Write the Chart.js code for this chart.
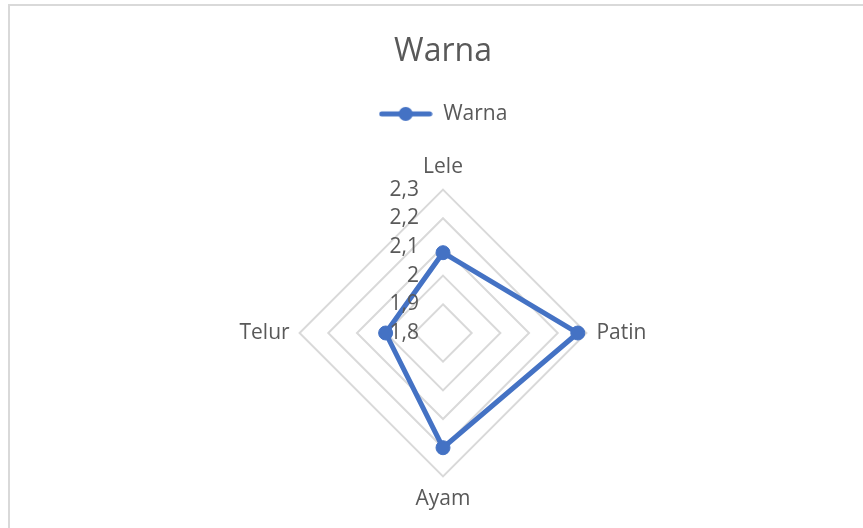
<!DOCTYPE html>
<html>
<head>
<meta charset="utf-8">
<script src="https://cdn.jsdelivr.net/npm/chart.js@4"></script>
<style>
  html, body { margin: 0; padding: 0; background: #fff; }
  #wrap { position: relative; width: 863px; height: 528px; overflow: hidden; }
  #frame { position: absolute; left: 8px; top: 4px; width: 900px; height: 600px;
           border-left: 2px solid #d9d9d9; border-top: 2px solid #d9d9d9; }
  canvas { position: absolute; left: 0; top: 0; }
</style>
</head>
<body>
<div id="wrap">
  <div id="frame"></div>
  <canvas id="radarChart" width="863" height="528"></canvas>
</div>
<script>
const categories = ['Lele', 'Patin', 'Ayam', 'Telur'];
const warnaValues = [2.08, 2.27, 2.2, 2.0];
const tickValues = [1.8, 1.9, 2.0, 2.1, 2.2, 2.3];

const textColor = '#595959';
const lineColor = '#4472c4';
const fontFamily = "'Open Sans', sans-serif";

// legend marker: line with a dot in the middle
const marker = document.createElement('canvas');
marker.width = 54;
marker.height = 16;
(function () {
    const c = marker.getContext('2d');
    c.strokeStyle = lineColor;
    c.lineWidth = 5;
    c.lineCap = 'round';
    c.beginPath();
    c.moveTo(3, 8);
    c.lineTo(51, 8);
    c.stroke();
    c.fillStyle = lineColor;
    c.beginPath();
    c.arc(27, 8, 7, 0, Math.PI * 2);
    c.fill();
})();

// extra room under the legend
const legendMargin = {
    id: 'legendMargin',
    beforeInit(chart) {
        const fit = chart.legend.fit;
        chart.legend.fit = function () {
            fit.bind(chart.legend)();
            this.height += 20;
        };
    }
};

// tick labels drawn left of the vertical axis, with decimal comma
const tickLabelPlugin = {
    id: 'tickLabels',
    afterDatasetsDraw(chart) {
        const scale = chart.scales.r;
        const ctx = chart.ctx;
        ctx.save();
        ctx.fillStyle = textColor;
        ctx.font = '21px ' + fontFamily;
        ctx.textAlign = 'right';
        ctx.textBaseline = 'middle';
        tickValues.forEach(v => {
            const d = scale.getDistanceFromCenterForValue(v);
            ctx.fillText(String(v).replace('.', ','), scale.xCenter - 24, scale.yCenter - d);
        });
        ctx.restore();
    }
};

new Chart(document.getElementById('radarChart'), {
    type: 'radar',
    data: {
        labels: categories,
        datasets: [{
            label: 'Warna',
            data: warnaValues,
            borderColor: lineColor,
            backgroundColor: lineColor,
            borderWidth: 5,
            fill: false,
            pointRadius: 7,
            pointBorderWidth: 1,
            pointBackgroundColor: lineColor,
            pointBorderColor: lineColor
        }]
    },
    options: {
        responsive: false,
        animation: false,
        layout: { padding: { left: 23, right: 0, top: 0, bottom: 15 } },
        plugins: {
            title: {
                display: true,
                text: 'Warna',
                color: textColor,
                font: { family: fontFamily, size: 32, weight: 'normal' },
                padding: { top: 33, bottom: 22 }
            },
            legend: {
                position: 'top',
                labels: {
                    color: textColor,
                    font: { family: fontFamily, size: 21 },
                    usePointStyle: true,
                    pointStyle: marker,
                    pointStyleWidth: 54,
                    padding: 10,
                    generateLabels(chart) {
                        return chart.data.datasets.map((ds, i) => ({
                            text: ds.label,
                            pointStyle: marker,
                            fontColor: textColor,
                            datasetIndex: i
                        }));
                    }
                }
            },
            tooltip: { enabled: false }
        },
        scales: {
            r: {
                min: 1.8,
                max: 2.3,
                ticks: { stepSize: 0.1, display: false },
                angleLines: { display: false },
                grid: { color: '#d9d9d9', lineWidth: 2 },
                pointLabels: {
                    color: textColor,
                    font: { family: fontFamily, size: 21 },
                    padding: 10
                }
            }
        }
    },
    plugins: [legendMargin, tickLabelPlugin]
});
</script>
</body>
</html>
